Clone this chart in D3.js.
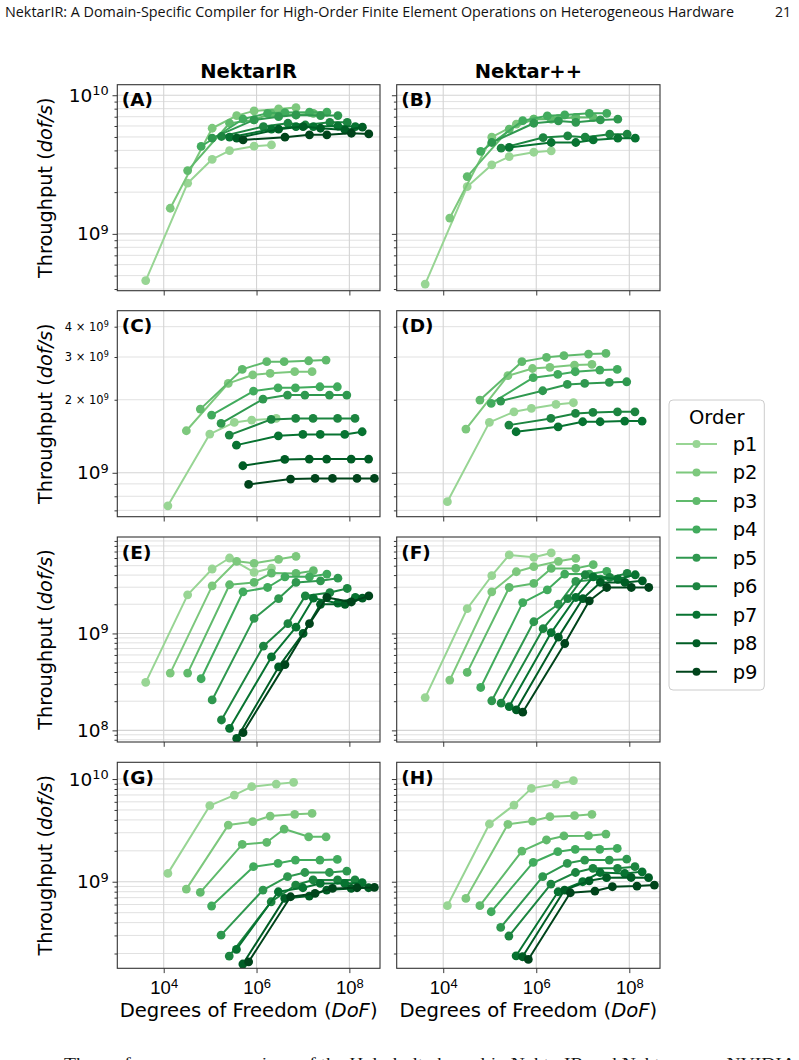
<!DOCTYPE html>
<html><head><meta charset="utf-8">
<script src="https://cdn.jsdelivr.net/npm/d3@7"></script>
<style>body{margin:0;background:#fff}svg{display:block}</style>
</head><body><svg id="c" width="799" height="1060"></svg>
<script>
// ---------------- DATA ----------------
const orders = ["p1","p2","p3","p4","p5","p6","p7","p8","p9"];
const xTickVals = [1e4, 1e6, 1e8];
// Degrees of freedom per order (hexahedral meshes: panels A,B,E,F)
const hexDoF = [
  [4096, 32768, 110592, 262144, 884736, 2097152],
  [13824, 110592, 373248, 884736, 2985984, 7077888],
  [32768, 262144, 884736, 2097152, 7077888, 16777216],
  [64000, 512000, 1728000, 4096000, 13824000, 32768000],
  [110592, 884736, 2985984, 7077888, 23887872, 56623104],
  [175616, 1404928, 4741632, 11239424, 37933056, 89915392],
  [262144, 2097152, 7077888, 16777216, 56623104, 134217728],
  [373248, 2985984, 10077696, 23887872, 80621568, 191102976],
  [512000, 4096000, 13824000, 32768000, 110592000, 262144000]
];
// Degrees of freedom per order (tetrahedral meshes: panels C,D,G,H)
const tetDoF = [
  [12288, 98304, 331776, 786432, 2654208, 6291456],
  [30720, 245760, 829440, 1966080, 6635520, 15728640],
  [61440, 491520, 1658880, 3932160, 13271040, 31457280],
  [107520, 860160, 2903040, 6881280, 23224320, 55050240],
  [172032, 1376256, 4644864, 11010048, 37158912, 88080384],
  [258048, 2064384, 6967296, 16515072, 55738368, 132120576],
  [368640, 2949120, 9953280, 23592960, 79626240, 188743680],
  [506880, 4055040, 13685760, 32440320, 109486080, 259522560],
  [675840, 5406720, 18247680, 43253760, 145981440, 346030080]
];
// Throughput (dof/s) per order
const tpA = [
  [4.6e8, 2.32e9, 3.45e9, 3.99e9, 4.29e9, 4.38e9],
  [1.53e9, 5.78e9, 7.13e9, 7.71e9, 7.96e9, 8.15e9],
  [2.86e9, 6.28e9, 6.64e9, 7.41e9, 7.21e9, 7.41e9],
  [4.27e9, 6.74e9, 7.41e9, 7.5e9, 7.54e9, 7.54e9],
  [4.9e9, 6.64e9, 7.0e9, 7.2e9, 7.13e9, 7.13e9],
  [5.04e9, 5.94e9, 6.28e9, 6.1e9, 6.38e9, 6.38e9],
  [4.98e9, 5.69e9, 5.94e9, 5.94e9, 6.0e9, 5.94e9],
  [4.9e9, 5.69e9, 5.94e9, 5.78e9, 5.62e9, 5.88e9],
  [4.76e9, 4.98e9, 5.18e9, 5.18e9, 5.32e9, 5.26e9]
];
const tpB = [
  [4.34e8, 2.19e9, 3.15e9, 3.61e9, 3.88e9, 3.97e9],
  [1.3e9, 4.98e9, 6.18e9, 6.72e9, 6.82e9, 6.93e9],
  [2.59e9, 5.69e9, 6.72e9, 6.72e9, 6.93e9, 6.9e9],
  [3.93e9, 6.56e9, 7.1e9, 7.21e9, 7.41e9, 7.41e9],
  [4.56e9, 6.28e9, 6.53e9, 6.38e9, 6.64e9, 6.72e9],
  [4.15e9, 4.95e9, 5.09e9, 4.98e9, 5.24e9, 5.24e9],
  [4.2e9, 4.56e9, 4.56e9, 4.76e9, 4.9e9, 4.9e9],
  [],
  []
];
const tpC = [
  [7.31e8, 1.444e9, 1.613e9, 1.649e9, 1.675e9],
  [1.49e9, 2.335e9, 2.53e9, 2.57e9, 2.61e9, 2.61e9],
  [1.83e9, 2.667e9, 2.87e9, 2.87e9, 2.895e9, 2.914e9],
  [1.729e9, 2.171e9, 2.24e9, 2.24e9, 2.262e9, 2.262e9],
  [1.597e9, 2.012e9, 2.09e9, 2.09e9, 2.09e9, 2.09e9],
  [1.43e9, 1.66e9, 1.675e9, 1.675e9, 1.675e9, 1.675e9],
  [1.30e9, 1.42e9, 1.439e9, 1.439e9, 1.439e9, 1.476e9],
  [1.069e9, 1.135e9, 1.139e9, 1.139e9, 1.139e9, 1.139e9],
  [8.95e8, 9.42e8, 9.48e8, 9.48e8, 9.48e8, 9.48e8]
];
const tpD = [
  [7.6e8, 1.613e9, 1.784e9, 1.842e9, 1.913e9, 1.944e9],
  [1.514e9, 2.512e9, 2.69e9, 2.72e9, 2.78e9, 2.797e9],
  [1.993e9, 2.87e9, 2.99e9, 3.037e9, 3.085e9, 3.105e9],
  [1.931e9, 2.465e9, 2.544e9, 2.609e9, 2.651e9, 2.667e9],
  [1.975e9, 2.178e9, 2.313e9, 2.335e9, 2.358e9, 2.372e9],
  [1.572e9, 1.675e9, 1.756e9, 1.773e9, 1.784e9, 1.784e9],
  [1.476e9, 1.547e9, 1.623e9, 1.623e9, 1.633e9, 1.633e9],
  [],
  []
];
const tpE = [
  [3.13e8, 2.5e9, 4.62e9, 6.0e9, 4.26e9, 4.73e9],
  [3.9e8, 3.1e9, 5.55e9, 5.29e9, 5.82e9, 6.25e9],
  [3.9e8, 3.18e9, 3.36e9, 4.2e9, 4.16e9, 4.44e9],
  [3.41e8, 2.69e9, 2.98e9, 3.84e9, 3.84e9, 4.1e9],
  [2.06e8, 1.43e9, 2.29e9, 3.36e9, 3.49e9, 3.72e9],
  [1.28e8, 7.39e8, 1.26e9, 2.44e9, 2.64e9, 2.91e9],
  [1.05e8, 5.73e8, 1.16e9, 2.31e9, 2.05e9, 2.35e9],
  [8.26e7, 4.51e8, 1.0e9, 2.0e9, 2.0e9, 2.31e9],
  [9.46e7, 4.77e8, 1.26e9, 2.35e9, 2.11e9, 2.44e9]
];
const tpF = [
  [2.18e8, 1.8e9, 3.94e9, 6.45e9, 6.1e9, 6.77e9],
  [3.3e8, 2.69e9, 4.33e9, 4.88e9, 5.55e9, 5.96e9],
  [3.97e8, 2.98e9, 3.28e9, 4.69e9, 4.69e9, 5.12e9],
  [2.77e8, 2.08e9, 2.82e9, 4.1e9, 4.1e9, 4.37e9],
  [2.02e8, 1.32e9, 2.0e9, 3.44e9, 3.64e9, 3.64e9],
  [1.91e8, 1.12e9, 2.29e9, 4.03e9, 3.78e9, 4.16e9],
  [1.76e8, 1.02e9, 2.35e9, 3.84e9, 3.64e9, 4.03e9],
  [1.63e8, 9.16e8, 2.29e9, 3.36e9, 3.36e9, 3.49e9],
  [1.54e8, 7.87e8, 2.17e9, 2.98e9, 2.98e9, 2.98e9]
];
const tpG = [
  [1.206e9, 5.5e9, 6.98e9, 8.42e9, 8.93e9, 9.28e9],
  [8.48e8, 3.56e9, 3.84e9, 4.36e9, 4.53e9, 4.63e9],
  [7.87e8, 2.31e9, 2.42e9, 3.26e9, 2.74e9, 2.74e9],
  [5.8e8, 1.4e9, 1.51e9, 1.625e9, 1.625e9, 1.65e9],
  [3.02e8, 8.3e8, 1.12e9, 1.23e9, 1.23e9, 1.27e9],
  [1.89e8, 6.38e8, 9.28e8, 1.04e9, 1.04e9, 1.04e9],
  [2.19e8, 7.99e8, 8.74e8, 9.63e8, 9.63e8, 9.78e8],
  [1.58e8, 6.88e8, 7.25e8, 8.3e8, 8.61e8, 8.74e8],
  [1.66e8, 7.14e8, 7.7e8, 8.61e8, 8.74e8, 8.81e8]
];
const tpH = [
  [5.84e8, 3.65e9, 5.58e9, 8.11e9, 8.93e9, 9.63e9],
  [6.88e8, 3.62e9, 3.9e9, 4.3e9, 4.4e9, 4.53e9],
  [5.84e8, 1.99e9, 2.55e9, 2.79e9, 2.81e9, 2.91e9],
  [5.1e8, 1.54e9, 1.96e9, 2.07e9, 2.07e9, 2.11e9],
  [3.59e8, 1.12e9, 1.51e9, 1.625e9, 1.625e9, 1.66e9],
  [2.96e8, 9.49e8, 1.23e9, 1.35e9, 1.35e9, 1.4e9],
  [1.9e8, 7.99e8, 1.0e9, 1.23e9, 1.206e9, 1.25e9],
  [1.86e8, 8.3e8, 1.02e9, 1.094e9, 1.1e9, 1.094e9],
  [1.75e8, 7.81e8, 8.11e8, 8.94e8, 9.08e8, 9.28e8]
];
const colTitles = ["NektarIR", "Nektar++"];
const panelLabels = ["(A)","(B)","(C)","(D)","(E)","(F)","(G)","(H)"];

// ---------------- STYLE / LAYOUT ----------------
const colors = ["#98d594","#7dc87d","#60ba6c","#41ab5d","#2f984f","#1c8540","#077331","#005d25","#00441b"];
const FONT = "'DejaVu Sans', sans-serif";
const colX = [[117.3, 380], [396.7, 660]];
const rowY = [[84.7, 290.7], [310.7, 516.7], [537, 742], [762.3, 968.3]];
const rowDomains = [[10**8.59, 10**10.076], [10**8.819, 10**9.668], [10**7.88, 10**9.995], [10**8.157, 10**10.163]];
const xDomain = [1e3, 4.57e8];

const panels = [
  {row:0, col:0, dof:hexDoF, tp:tpA}, {row:0, col:1, dof:hexDoF, tp:tpB},
  {row:1, col:0, dof:tetDoF, tp:tpC}, {row:1, col:1, dof:tetDoF, tp:tpD},
  {row:2, col:0, dof:hexDoF, tp:tpE}, {row:2, col:1, dof:hexDoF, tp:tpF},
  {row:3, col:0, dof:tetDoF, tp:tpG}, {row:3, col:1, dof:tetDoF, tp:tpH}
];

const svg = d3.select("#c").attr("font-family", FONT);
svg.append("rect").attr("width", 799).attr("height", 1060).attr("fill", "#fff");

// header / footer (page text)
svg.append("text").attr("x", 5).attr("y", 17).attr("font-size", 14)
  .attr("font-family", "'Open Sans', sans-serif").attr("textLength", 729).attr("lengthAdjust", "spacingAndGlyphs")
  .attr("fill", "#111")
  .text("NektarIR: A Domain-Specific Compiler for High-Order Finite Element Operations on Heterogeneous Hardware");
svg.append("text").attr("x", 791).attr("y", 17).attr("font-size", 14).attr("text-anchor", "end")
  .attr("font-family", "'Open Sans', sans-serif").attr("fill", "#111").text("21");
svg.append("text").attr("x", 64).attr("y", 1068).attr("font-size", 15)
  .attr("font-family", "'Liberation Serif', serif").attr("textLength", 732).attr("lengthAdjust", "spacingAndGlyphs")
  .attr("fill", "#111")
  .text("The performance comparison of the Helmholtz kernel in NektarIR and Nektar++ on NVIDIA");

function logTicks(lo, hi) {
  const out = [];
  for (let e = Math.floor(Math.log10(lo)); e <= Math.ceil(Math.log10(hi)); e++)
    for (let k = 1; k <= 9; k++) { const v = k * 10 ** e; if (v >= lo && v <= hi) out.push({v, k, e}); }
  return out;
}
function sci(sel, mant, exp, size) {
  sel.text(null).attr("font-size", size);
  sel.append("tspan").text(mant ? mant + " \u00d7 10" : "10");
  sel.append("tspan").attr("font-size", size * 0.7).attr("dy", -size * 0.36).text(exp);
}

panels.forEach((p, i) => {
  const [x0, x1] = colX[p.col];
  const [y0, y1] = rowY[p.row];
  const x = d3.scaleLog().domain(xDomain).range([x0, x1]);
  const y = d3.scaleLog().domain(rowDomains[p.row]).range([y1, y0]);
  const g = svg.append("g");
  const ticks = logTicks(...rowDomains[p.row]);

  // grid
  g.append("g").selectAll("line").data(ticks).join("line")
    .attr("x1", x0).attr("x2", x1).attr("y1", d => y(d.v)).attr("y2", d => y(d.v))
    .attr("stroke", d => d.k === 1 ? "#d4d4d4" : "#dedede").attr("stroke-width", d => d.k === 1 ? 1.1 : 0.9);
  g.append("g").selectAll("line").data(xTickVals).join("line")
    .attr("x1", d => x(d)).attr("x2", d => x(d)).attr("y1", y0).attr("y2", y1)
    .attr("stroke", "#d4d4d4").attr("stroke-width", 1.1);

  // series
  const clipId = "clip" + i;
  svg.append("clipPath").attr("id", clipId).append("rect")
    .attr("x", x0).attr("y", y0).attr("width", x1 - x0).attr("height", y1 - y0);
  const sg = g.append("g").attr("clip-path", `url(#${clipId})`);
  const line = d3.line().x(d => x(d[0])).y(d => y(d[1]));
  p.tp.forEach((vals, s) => {
    if (!vals.length) return;
    const pts = vals.map((v, j) => [p.dof[s][j], v]);
    sg.append("path").attr("d", line(pts)).attr("fill", "none")
      .attr("stroke", colors[s]).attr("stroke-width", 2).attr("stroke-linejoin", "round");
    sg.append("g").selectAll("circle").data(pts).join("circle")
      .attr("cx", d => x(d[0])).attr("cy", d => y(d[1])).attr("r", 4.4).attr("fill", colors[s]);
  });

  // y axis ticks
  const majors = ticks.filter(t => t.k === 1).map(t => t.v);
  const minors = ticks.filter(t => t.k !== 1).map(t => t.v);
  const ay = g.append("g").attr("transform", `translate(${x0},0)`);
  ay.append("g").call(d3.axisLeft(y).tickValues(minors).tickSize(2.8).tickFormat(() => ""));
  ay.append("g").call(d3.axisLeft(y).tickValues(majors).tickSize(4.8).tickPadding(3.5).tickFormat(() => ""));
  ay.selectAll(".domain").remove();
  ay.selectAll(".tick line").attr("stroke", "#222").attr("stroke-width", 0.9);
  if (p.col === 0) {
    ticks.forEach(t => {
      const small = p.row === 1 && t.k !== 1 && t.e === 9;
      if (t.k !== 1 && !small) return;
      const tx = ay.append("text").attr("x", -8.5).attr("text-anchor", "end").attr("fill", "#000");
      if (small) { tx.attr("y", y(t.v) + 4.2); sci(tx, String(t.k), String(t.e), 11.5); }
      else { tx.attr("y", y(t.v) + 6.6); sci(tx, null, String(t.e), 18.5); }
    });
  }

  // x axis ticks
  const ax = g.append("g").attr("transform", `translate(0,${y1})`)
    .call(d3.axisBottom(x).tickValues(xTickVals).tickSize(4.8).tickFormat(() => ""));
  ax.select(".domain").remove();
  ax.selectAll(".tick line").attr("stroke", "#222").attr("stroke-width", 0.9);
  if (p.row === 3) {
    ax.selectAll(".tick").each(function(d) {
      const tx = d3.select(this).append("text").attr("y", 26).attr("text-anchor", "middle").attr("fill", "#000");
      sci(tx, null, String(Math.round(Math.log10(d))), 18.5);
    });
  }

  // frame
  g.append("rect").attr("x", x0).attr("y", y0).attr("width", x1 - x0).attr("height", y1 - y0)
    .attr("fill", "none").attr("stroke", "#333").attr("stroke-width", 1.1);
  // panel label
  g.append("text").attr("x", x0 + 4.5).attr("y", y0 + 21.5).attr("font-size", 18.5)
    .attr("font-weight", "bold").attr("fill", "#000").text(panelLabels[i]);
});

// column titles
colTitles.forEach((t, c) => {
  svg.append("text").attr("x", (colX[c][0] + colX[c][1]) / 2).attr("y", 78)
    .attr("text-anchor", "middle").attr("font-size", 19.5).attr("font-weight", "bold").text(t);
  const xl = svg.append("text").attr("x", (colX[c][0] + colX[c][1]) / 2).attr("y", 1017)
    .attr("text-anchor", "middle").attr("font-size", 19.6);
  xl.append("tspan").text("Degrees of Freedom (");
  xl.append("tspan").attr("font-style", "italic").text("DoF");
  xl.append("tspan").text(")");
});
// y labels
rowY.forEach(([a, b]) => {
  const yl = svg.append("text").attr("transform", `translate(52,${(a + b) / 2}) rotate(-90)`)
    .attr("text-anchor", "middle").attr("font-size", 19.3);
  yl.append("tspan").text("Throughput (");
  yl.append("tspan").attr("font-style", "italic").text("dof/s");
  yl.append("tspan").text(")");
});

// legend
const lg = svg.append("g");
lg.append("rect").attr("x", 669).attr("y", 400).attr("width", 95.3).attr("height", 290).attr("rx", 4)
  .attr("fill", "#fff").attr("fill-opacity", 0.8).attr("stroke", "#cccccc").attr("stroke-width", 1);
lg.append("text").attr("x", 716.7).attr("y", 423.5).attr("text-anchor", "middle").attr("font-size", 19.5).text("Order");
orders.forEach((o, i) => {
  const yy = 444 + 28.46 * i;
  lg.append("line").attr("x1", 676).attr("x2", 717).attr("y1", yy).attr("y2", yy)
    .attr("stroke", colors[i]).attr("stroke-width", 2);
  lg.append("circle").attr("cx", 696.5).attr("cy", yy).attr("r", 4).attr("fill", colors[i]);
  lg.append("text").attr("x", 732.7).attr("y", yy + 7).attr("font-size", 19.5).text(o);
});
</script>
</body></html>
